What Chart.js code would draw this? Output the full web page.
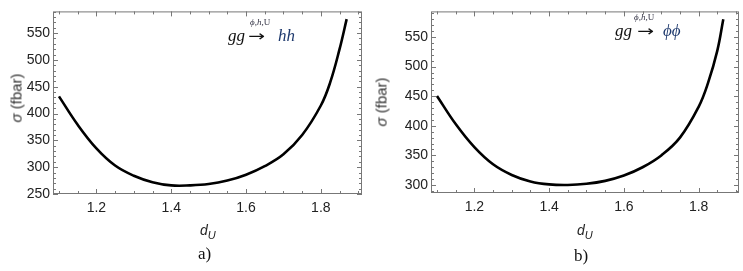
<!DOCTYPE html>
<html>
<head>
<meta charset="utf-8">
<script src="https://cdn.jsdelivr.net/npm/chart.js@4/dist/chart.umd.min.js"></script>
<style>
  html, body { margin: 0; padding: 0; background: #fff; }
  #wrap { position: relative; width: 743px; height: 271px; overflow: hidden; }
  .panel { position: absolute; top: 0; height: 271px; }
  .lbl { position: absolute; white-space: nowrap; color: #222; }
  .serif { font-family: "Liberation Serif", "Times New Roman", serif; }
  .sans { font-family: "Liberation Sans", Arial, sans-serif; }
  .arrow { font-family: "DejaVu Sans", sans-serif; font-size: 15px; line-height: 15px; transform-origin: left center; transform: scaleX(1.35); color: #111; }
</style>
</head>
<body>
<div id="wrap">
  <div class="panel" style="left:0;width:370px;"><canvas id="chartA" width="370" height="271"></canvas></div>
  <div class="panel" style="left:370px;width:373px;"><canvas id="chartB" width="373" height="271"></canvas></div>

  <!-- panel a) -->
  <div class="lbl sans" style="left:16px;top:98px;font-size:15px;color:#333;transform:translate(-50%,-50%) rotate(-90deg);"><i>σ</i> (fbar)</div>
  <div class="lbl sans" style="left:200px;top:223px;font-size:14px;font-style:italic;line-height:14px;">d<span style="font-size:11px;position:relative;top:4px;">U</span></div>
  <div class="lbl serif" style="left:198px;top:245px;font-size:17px;line-height:17px;color:#111;">a)</div>
  <div class="lbl serif" style="left:228px;top:27px;font-size:17px;line-height:17px;font-style:italic;color:#111;">gg</div>
  <div class="lbl arrow" style="left:248px;top:29px;">→</div>
  <div class="lbl serif" style="left:250px;top:18px;font-size:9px;line-height:9px;color:#334;"><i>ϕ</i>,<i>h</i>,U</div>
  <div class="lbl serif" style="left:278px;top:27px;font-size:17px;line-height:17px;font-style:italic;color:#1f3a6e;">hh</div>

  <!-- panel b) -->
  <div class="lbl sans" style="left:381px;top:102px;font-size:15px;color:#333;transform:translate(-50%,-50%) rotate(-90deg);"><i>σ</i> (fbar)</div>
  <div class="lbl sans" style="left:577px;top:223px;font-size:14px;font-style:italic;line-height:14px;">d<span style="font-size:11px;position:relative;top:4px;">U</span></div>
  <div class="lbl serif" style="left:574px;top:247px;font-size:17px;line-height:17px;color:#111;">b)</div>
  <div class="lbl serif" style="left:615px;top:22px;font-size:17px;line-height:17px;font-style:italic;color:#111;">gg</div>
  <div class="lbl arrow" style="left:637px;top:24px;">→</div>
  <div class="lbl serif" style="left:634px;top:13px;font-size:9px;line-height:9px;color:#334;"><i>ϕ</i>,<i>h</i>,U</div>
  <div class="lbl serif" style="left:663px;top:22px;font-size:17px;line-height:17px;font-style:italic;color:#1f3a6e;">ϕϕ</div>
</div>

<script>
// ---------------------------------------------------------
// Datos
// ---------------------------------------------------------
const dU_a = [1.10, 1.15, 1.20, 1.25, 1.30, 1.35, 1.40, 1.45, 1.50, 1.55, 1.60, 1.65, 1.70, 1.75, 1.80, 1.825, 1.85, 1.869];
const sigmaHH = [432, 379, 335, 303, 284, 272, 266, 266, 268.5, 275, 286, 302, 324, 360, 415, 458, 520, 576];

const dU_b = [1.10, 1.15, 1.20, 1.25, 1.30, 1.35, 1.40, 1.45, 1.50, 1.55, 1.60, 1.65, 1.70, 1.75, 1.80, 1.825, 1.85, 1.866];
const sigmaPhiPhi = [450.5, 403, 364, 335, 317, 306, 301, 300, 302, 307, 316, 330, 350, 380, 432, 472, 527, 580];

const xTicks = [1.2, 1.4, 1.6, 1.8];
const yTicksA = [250, 300, 350, 400, 450, 500, 550];
const yTicksB = [300, 350, 400, 450, 500, 550];

const frameColor = '#777';
const tickColor = '#222';

// marco completo con marcas hacia adentro (estilo Mathematica)
const frameTicks = {
  id: 'frameTicks',
  afterDatasetsDraw(chart) {
    const { ctx, chartArea: a, scales: { x, y } } = chart;
    ctx.save();
    ctx.strokeStyle = frameColor;
    ctx.lineWidth = 1;
    ctx.strokeRect(a.left + 0.5, a.top + 0.5, a.right - a.left - 1, a.bottom - a.top - 1);

    ctx.beginPath();
    // marcas en x cada 0.05
    for (let v = 1.1; v <= x.max + 1e-9; v += 0.05) {
      const px = Math.round(x.getPixelForValue(v)) + 0.5;
      const major = xTicks.some(t => Math.abs(t - v) < 1e-6);
      const len = major ? 5 : 3;
      ctx.moveTo(px, a.bottom); ctx.lineTo(px, a.bottom - len);
      ctx.moveTo(px, a.top); ctx.lineTo(px, a.top + len);
    }
    // marcas en y cada 10
    const yStart = Math.ceil(y.min / 10) * 10;
    for (let v = yStart; v <= y.max; v += 10) {
      const py = Math.round(y.getPixelForValue(v)) + 0.5;
      const len = v % 50 === 0 ? 5 : 3;
      ctx.moveTo(a.left, py); ctx.lineTo(a.left + len, py);
      ctx.moveTo(a.right, py); ctx.lineTo(a.right - len, py);
    }
    ctx.stroke();
    ctx.restore();
  }
};

function buildChart(canvasId, xs, ys, yTicks, yRange, xRange, yWidth, xHeight, pad) {
  const points = xs.map((v, i) => ({ x: v, y: ys[i] }));
  return new Chart(document.getElementById(canvasId), {
    type: 'scatter',
    data: {
      datasets: [{
        data: points,
        showLine: true,
        borderColor: '#000',
        borderWidth: 2.6,
        pointRadius: 0,
        tension: 0.4
      }]
    },
    options: {
      responsive: false,
      animation: false,
      layout: { padding: pad },
      plugins: { legend: { display: false }, tooltip: { enabled: false } },
      scales: {
        x: {
          type: 'linear',
          min: xRange[0], max: xRange[1],
          grid: { display: false, drawTicks: false },
          border: { display: false },
          afterBuildTicks: s => { s.ticks = xTicks.map(v => ({ value: v })); },
          afterFit: s => { s.height = xHeight; },
          ticks: {
            padding: 6,
            color: tickColor,
            maxRotation: 0,
            font: { family: '"Liberation Sans", Arial, sans-serif', size: 14 },
            callback: v => v.toFixed(1)
          }
        },
        y: {
          type: 'linear',
          min: yRange[0], max: yRange[1],
          grid: { display: false, drawTicks: false },
          border: { display: false },
          afterBuildTicks: s => { s.ticks = yTicks.map(v => ({ value: v })); },
          afterFit: s => { s.width = yWidth; },
          ticks: {
            padding: 3,
            color: tickColor,
            font: { family: '"Liberation Sans", Arial, sans-serif', size: 14 },
            callback: v => String(v)
          }
        }
      }
    },
    plugins: [frameTicks]
  });
}

buildChart('chartA', dU_a, sigmaHH, yTicksA, [250, 590.4], [1.084, 1.910], 53, 77, { left: 0, right: 8, top: 5, bottom: 0 });
buildChart('chartB', dU_b, sigmaPhiPhi, yTicksB, [286.5, 593.3], [1.084, 1.908], 61, 78, { left: 0, right: 4, top: 4, bottom: 0 });
</script>
</body>
</html>
